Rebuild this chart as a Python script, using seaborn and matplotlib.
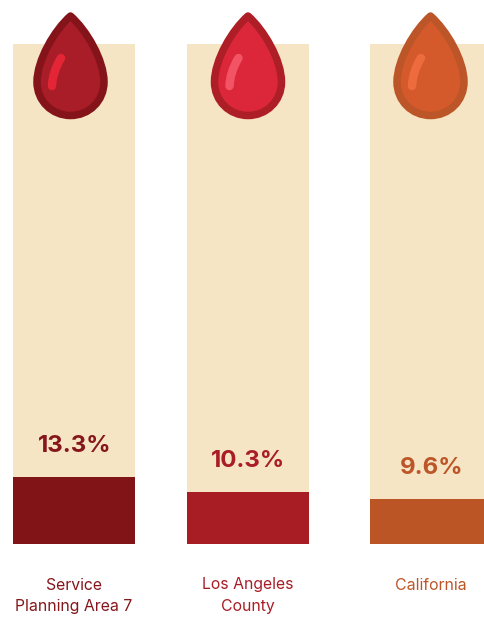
import matplotlib
matplotlib.use("Agg")
import matplotlib.pyplot as plt
from matplotlib.path import Path
from matplotlib.patches import PathPatch
import seaborn as sns
import pandas as pd

categories = ["Service\nPlanning Area 7", "Los Angeles\nCounty", "California"]
value_labels = ["13.3%", "10.3%", "9.6%"]
bar_heights = [13.4, 10.4, 9.0]   # drawn heights
full_scale = [100, 100, 100]

# layout / style (pixels of the 484x617 canvas)
W, H = 484, 617
centers = [74, 248, 431]
drop_centers = [70.5, 248, 430.5]
bar_px = 122
bar_colors = ["#811416", "#A81D24", "#BB5526"]
text_colors = ["#85161B", "#A81D27", "#BC5527"]
drop_edge = ["#85141A", "#AE1E27", "#BC5527"]
drop_fill = ["#A81D27", "#DB2739", "#D45A2B"]
drop_shine = ["#E42535", "#F25365", "#EE6B3E"]
track = "#F6E5C4"

sns.set_theme(style="white")
plt.rcParams["font.family"] = ["Inter", "DejaVu Sans"]
px = 72 / 100

fig = plt.figure(figsize=(W / 100, H / 100), dpi=100)
ax = fig.add_axes([0, (H - 544) / H, 1, 500 / H])

df = pd.DataFrame({"x": centers, "cat": categories, "track": full_scale, "val": bar_heights})
width = bar_px / min(b - a for a, b in zip(centers, centers[1:]))
sns.barplot(data=df, x="x", y="track", native_scale=True, width=width,
            color=track, saturation=1, ax=ax, linewidth=0)
sns.barplot(data=df, x="x", y="val", hue="cat", palette=bar_colors, native_scale=True,
            width=width, dodge=False, saturation=1, ax=ax, linewidth=0, legend=False)
ax.set_xlim(0, W)
ax.set_ylim(0, 100)
ax.set_xlabel("")
ax.set_ylabel("")
ax.set_yticks([])
ax.set_xticks(centers)
ax.set_xticklabels(categories, fontsize=15.8 * px, linespacing=1.5)
ax.tick_params(axis="x", length=0, pad=33.5 * px)
for lab, c in zip(ax.get_xticklabels(), text_colors):
    lab.set_color(c)
sns.despine(ax=ax, left=True, bottom=True, top=True, right=True)

for x, v, t, c in zip(centers, bar_heights, value_labels, text_colors):
    ax.annotate(t, (x, v), xytext=(0.5 * px, 31 * px), textcoords="offset points",
                ha="center", va="center", color=c, fontsize=24 * px, fontweight="bold")

# drop icons, on a pixel-coordinate overlay
ov = fig.add_axes([0, 0, 1, 1], facecolor="none")
ov.set_xlim(0, W)
ov.set_ylim(H, 0)
ov.axis("off")

for cx, e, f, s in zip(drop_centers, drop_edge, drop_fill, drop_shine):
    verts = [(cx, 16), (cx + 16, 30), (cx + 33.5, 60), (cx + 33.5, 82),
             (cx + 33.5, 101), (cx + 18.5, 115.5), (cx, 115.5),
             (cx - 18.5, 115.5), (cx - 33.5, 101), (cx - 33.5, 82),
             (cx - 33.5, 60), (cx - 16, 30), (cx, 16), (cx, 16)]
    codes = [Path.MOVETO] + [Path.CURVE4] * 12 + [Path.CLOSEPOLY]
    ov.add_patch(PathPatch(Path(verts, codes), facecolor=f, edgecolor=e,
                           linewidth=7.5 * px, joinstyle="round"))
    sv = [(cx - 9.5, 58), (cx - 18, 72), (cx - 18.5, 86)]
    ov.add_patch(PathPatch(Path(sv, [Path.MOVETO, Path.CURVE3, Path.CURVE3]),
                           facecolor="none", edgecolor=s, linewidth=8.5 * px,
                           capstyle="round"))

fig.savefig("out.png", dpi=100)
